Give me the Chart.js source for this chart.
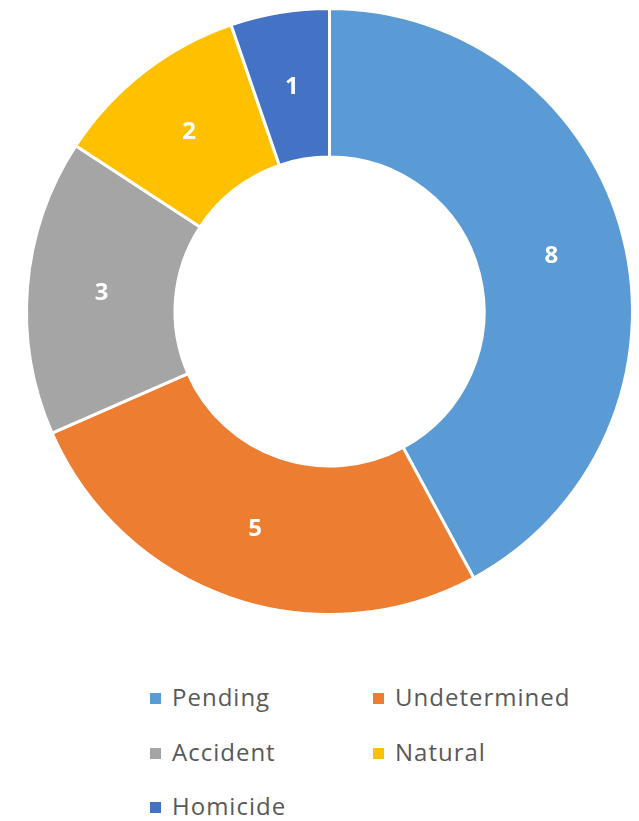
<!DOCTYPE html>
<html>
<head>
<meta charset="utf-8">
<script src="https://cdn.jsdelivr.net/npm/chart.js@4/dist/chart.umd.min.js"></script>
<style>
    body { margin: 0; background: #fff; }
    #wrap { position: relative; width: 639px; height: 821px; }
    #chartBox { position: absolute; left: 0; top: 0; width: 639px; height: 640px; }
    .legend-item {
        position: absolute;
        font-family: "Open Sans", sans-serif;
        font-size: 24px;
        letter-spacing: 1px;
        color: #595959;
        white-space: nowrap;
        line-height: 28px;
    }
    .legend-item span.box {
        display: inline-block;
        width: 11px;
        height: 11px;
        margin-right: 11px;
        vertical-align: 2px;
    }
</style>
</head>
<body>
<div id="wrap">
    <div id="chartBox"><canvas id="donut"></canvas></div>
    <div id="legend"></div>
</div>
<script>
// data
const categories = ['Pending', 'Undetermined', 'Accident', 'Natural', 'Homicide'];
const counts = [8, 5, 3, 2, 1];
const colors = ['#5B9BD5', '#ED7D31', '#A5A5A5', '#FFC000', '#4472C4'];

// legend cell positions (two columns)
const legendSpots = [[150, 683], [373, 683], [150, 738], [373, 738], [150, 792]];

window.onload = function() {
    // Draw the numbers in the middle of each slice
    const sliceLabels = {
        id: 'sliceLabels',
        afterDatasetsDraw(chart) {
            const ctx = chart.ctx;
            const meta = chart.getDatasetMeta(0);
            ctx.save();
            ctx.fillStyle = '#ffffff';
            ctx.font = 'bold 24px "Open Sans", sans-serif';
            ctx.textAlign = 'center';
            ctx.textBaseline = 'middle';
            meta.data.forEach((arc, i) => {
                const p = arc.getCenterPoint();
                ctx.fillText(String(counts[i]), p.x, p.y + 1);
            });
            ctx.restore();
        }
    };

    const donutCtx = document.getElementById('donut').getContext('2d');
    const donutChart = new Chart(donutCtx, {
        type: 'doughnut',
        data: {
            labels: categories,
            datasets: [
                {
                    data: counts,
                    backgroundColor: colors,
                    borderColor: '#ffffff',
                    borderWidth: 3
                }
            ]
        },
        options: {
            responsive: true,
            maintainAspectRatio: false,
            animation: false,
            cutout: '51%',
            layout: {
                padding: { left: 25, top: 7, right: 5, bottom: 24 }
            },
            plugins: {
                legend: { display: false },
                tooltip: { enabled: false }
            }
        },
        plugins: [sliceLabels]
    });

    // HTML legend built from the same arrays
    const legendEl = document.getElementById('legend');
    categories.forEach((name, i) => {
        const item = document.createElement('div');
        item.className = 'legend-item';
        item.style.left = legendSpots[i][0] + 'px';
        item.style.top = legendSpots[i][1] + 'px';
        item.innerHTML = '<span class="box" style="background:' + colors[i] + '"></span>' + name;
        legendEl.appendChild(item);
    });
};
</script>
</body>
</html>
